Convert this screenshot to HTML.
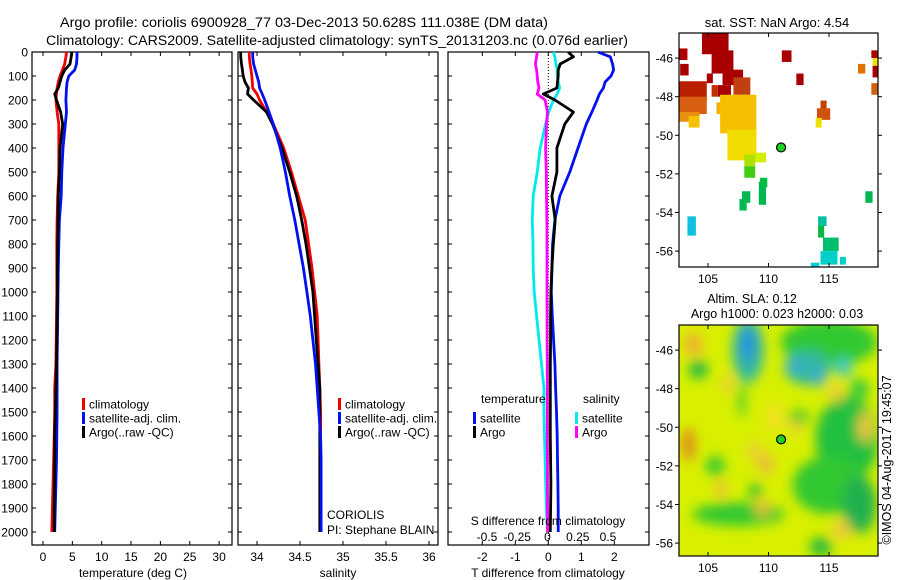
<!DOCTYPE html>
<html><head><meta charset="utf-8"><style>
html,body{margin:0;padding:0;background:#fff;}
svg{display:block;font-family:"Liberation Sans",sans-serif;}
</style></head><body>
<svg id="fig" xmlns="http://www.w3.org/2000/svg" width="900" height="580" viewBox="0 0 900 580">
<rect x="0" y="0" width="900" height="580" fill="#fff"/>
<text x="304" y="27" font-size="13.5" text-anchor="middle" textLength="488" lengthAdjust="spacingAndGlyphs">Argo profile: coriolis 6900928_77 03-Dec-2013 50.628S 111.038E (DM data)</text>
<text x="337" y="45" font-size="13.5" text-anchor="middle" textLength="582" lengthAdjust="spacingAndGlyphs">Climatology: CARS2009. Satellite-adjusted climatology: synTS_20131203.nc (0.076d earlier)</text>
<text x="777" y="27" font-size="13" text-anchor="middle">sat. SST: NaN Argo: 4.54</text>
<text x="752" y="303" font-size="12.5" text-anchor="middle">Altim. SLA: 0.12</text>
<text x="777" y="318" font-size="12.5" text-anchor="middle">Argo h1000: 0.023 h2000: 0.03</text>
<text transform="translate(891,460) rotate(-90)" font-size="12.5" text-anchor="middle">©IMOS 04-Aug-2017 19:45:07</text>
<g id="panels"></g>
<defs>
<clipPath id="clipTop"><rect x="679" y="33" width="199" height="234"/></clipPath>
<clipPath id="clipBot"><rect x="679" y="325" width="199" height="231"/></clipPath>
<filter id="blur" x="-20%" y="-20%" width="140%" height="140%"><feGaussianBlur stdDeviation="6"/></filter>
</defs>
</svg>
<script>
// ---------- profile data ----------
const depths = [0,20,50,75,100,125,150,175,200,250,300,400,500,600,700,800,900,1000,1100,1200,1300,1400,1500,1600,1700,1800,1900,2000];
const tempClim = [4.0,3.9,3.7,3.3,2.9,2.6,2.4,2.3,2.2,2.4,2.7,2.7,2.7,2.5,2.4,2.35,2.35,2.35,2.3,2.25,2.2,2.0,2.0,1.9,1.8,1.7,1.6,1.5];
const tempSat  = [5.8,5.8,5.7,5.4,4.4,4.1,4.0,3.95,3.9,4.0,3.8,3.4,3.2,3.1,2.8,2.7,2.6,2.55,2.5,2.45,2.4,2.4,2.4,2.35,2.3,2.2,2.1,2.0];
const tempArgo = [4.9,4.8,4.6,3.7,3.2,2.9,2.6,2.0,2.3,3.0,3.35,2.9,2.8,2.6,2.55,2.5,2.45,2.45,2.4,2.35,2.3,2.2,2.1,2.0,2.0,1.95,1.9,1.9];
const salClim = [33.91,33.91,33.92,33.93,33.94,33.945,33.95,34.0,34.03,34.11,34.19,34.31,34.40,34.48,34.56,34.60,34.64,34.67,34.70,34.71,34.72,34.73,34.74,34.74,34.74,34.74,34.74,34.74];
const salSat  = [33.95,33.95,33.96,33.98,34.0,34.02,34.03,34.06,34.09,34.14,34.19,34.27,34.33,34.38,34.44,34.49,34.54,34.58,34.62,34.65,34.68,34.70,34.72,34.74,34.745,34.745,34.745,34.745];
const salArgo = [33.81,33.81,33.82,33.83,33.84,33.86,33.90,33.89,33.96,34.11,34.18,34.29,34.38,34.46,34.52,34.57,34.61,34.65,34.67,34.69,34.71,34.73,34.73,34.73,34.73,34.73,34.73,34.73];
const tDiffSat  = [1.5,1.88,1.95,1.98,1.9,1.72,1.67,1.55,1.48,1.32,1.15,0.9,0.65,0.35,0.2,0.13,0.11,0.09,0.12,0.16,0.2,0.22,0.25,0.27,0.28,0.29,0.3,0.3];
const tDiffArgo = [0.6,0.76,0.36,0.3,0.3,0.28,0.26,-0.15,0.2,0.76,0.5,0.26,0.26,0.11,0.21,0.15,0.11,0.08,0.07,0.07,0.06,0.06,0.06,0.06,0.07,0.08,0.07,0.06];
const sDiffSat  = [0.05,0.06,0.07,0.08,0.08,0.09,0.10,0.08,0.05,0.01,-0.016,-0.06,-0.085,-0.118,-0.126,-0.12,-0.118,-0.11,-0.09,-0.07,-0.05,-0.03,-0.03,-0.025,-0.02,-0.015,-0.01,0.0];
const sDiffArgo = [-0.085,-0.09,-0.1,-0.09,-0.085,-0.08,-0.07,-0.085,-0.02,0.0,-0.008,-0.016,-0.01,-0.008,-0.005,-0.004,-0.004,-0.004,-0.003,-0.003,-0.002,-0.002,-0.002,-0.002,-0.001,-0.001,0.0,0.0];
const depthTicks = [0,100,200,300,400,500,600,700,800,900,1000,1100,1200,1300,1400,1500,1600,1700,1800,1900,2000];
const tempTicks = [0,5,10,15,20,25,30];
const salTicks = [34,34.5,35,35.5,36];
const salTickLabels = ["34","34.5","35","35.5","36"];
const tDiffTicks = [-2,-1,0,1,2];
const sDiffTicks = [-0.5,-0.25,0,0.25,0.5];
const sDiffTickLabels = ["-0.5","-0.25","0","0.25","0.5"];
// ---------- map data ----------
const mapLonTicks = [105,110,115];
const mapLatTicks = [-46,-48,-50,-52,-54,-56];
const argoLon = 111.04, argoLat = -50.63;
const sstCells = [
 [104.5,-44.7,106.7,-45.8,"#a80000"],[105.3,-45.6,107.1,-46.8,"#a80000"],[106.2,-46.6,107.9,-47.4,"#a80000"],
 [107.1,-47.0,108.5,-47.9,"#c04010"],[102.6,-45.5,103.3,-46.1,"#b00000"],[102.7,-46.3,103.4,-46.9,"#a80000"],
 [102.6,-47.2,104.9,-48.2,"#b82000"],[102.6,-48.0,104.9,-48.9,"#d86010"],[102.6,-48.8,104.3,-49.3,"#e89010"],
 [103.4,-49.0,104.3,-49.6,"#f5c000"],[104.9,-46.8,105.4,-47.3,"#a80000"],[105.8,-47.4,106.9,-48.0,"#a80000"],
 [105.3,-47.4,105.8,-48.0,"#c03000"],[105.7,-48.3,106.2,-48.9,"#f5b000"],
 [106.0,-47.9,109.0,-49.9,"#f5c000"],[106.6,-49.7,109.0,-51.3,"#f0dc00"],[108.9,-50.9,109.8,-51.4,"#d0f000"],
 [108.0,-51.0,108.9,-51.6,"#b0e000"],[108.0,-51.6,108.9,-52.2,"#40cc10"],
 [109.3,-52.2,109.9,-52.7,"#00c040"],[109.2,-52.4,109.8,-53.6,"#00b850"],[107.8,-52.9,108.5,-53.5,"#00b850"],
 [107.6,-53.3,108.2,-53.9,"#00b850"],[103.3,-54.2,104.0,-55.2,"#10c0e0"],
 [114.1,-54.2,114.8,-54.7,"#00c0a0"],[114.1,-54.7,114.6,-55.3,"#00b840"],[114.5,-55.3,115.8,-56.0,"#00c070"],
 [114.3,-56.0,115.7,-56.7,"#00d0c8"],[115.9,-56.3,116.4,-56.7,"#00d0c8"],[113.5,-56.6,114.2,-56.8,"#00d0c8"],
 [111.1,-45.6,111.9,-46.2,"#a80000"],[112.3,-46.8,112.9,-47.4,"#a80000"],[114.3,-48.2,114.8,-48.7,"#c04000"],
 [114.0,-48.6,115.1,-49.2,"#d05010"],[113.9,-49.1,114.4,-49.6,"#f0e000"],[117.4,-46.3,118.0,-46.8,"#e07000"],
 [118.5,-45.6,119.1,-46.0,"#a80000"],[118.6,-46.0,119.1,-46.4,"#f0e000"],[118.6,-46.4,119.1,-47.0,"#a80000"],
 [118.5,-47.3,119.1,-47.9,"#d06010"],[118.0,-52.9,118.6,-53.5,"#00b850"]
];
const slaBlobs = [
 [115,-45.6,4,1.2,"#30c830"],[116.5,-50.6,2.6,2.2,"#20c040"],[115,-53,3,1.5,"#30c830"],[117.5,-54,1.4,1.5,"#20b050"],
 [107.5,-54.5,3.8,0.6,"#30c830"],[104.2,-47,0.8,0.5,"#20b848"],[105.6,-52,0.8,0.5,"#30c830"],[108.9,-53.3,0.5,0.4,"#20b840"],
 [114.3,-56.2,0.9,0.5,"#20b840"],[112.5,-49.5,0.8,0.4,"#40c830"],[107.8,-48.6,0.3,0.9,"#40c830"],[117.5,-48,0.8,0.5,"#30c840"],
 [108.3,-46.0,1.3,1.7,"#30b8a0"],[108.3,-45.7,0.6,0.9,"#2a90e0"],
 [113.2,-46.9,1.9,0.9,"#30b8a0"],[112.2,-46.8,0.5,0.4,"#40a8e0"],[114.2,-47.4,0.5,0.5,"#40a8e0"],[116.2,-46.9,0.7,0.5,"#40c8c8"],
 [103.8,-45.7,0.8,0.6,"#f0b030"],[103.4,-50.9,0.5,0.9,"#e08020"],[109.8,-51.9,0.6,0.6,"#f0b840"],[108.8,-51.2,0.5,0.5,"#f0c840"],
 [109.5,-54.2,0.6,0.4,"#f0b840"],[106.1,-53.2,0.4,0.5,"#f0b840"],[116,-55.3,0.8,0.5,"#f0c840"],[118,-50,0.6,0.8,"#f0c840"],
 [106.6,-47.8,0.4,0.5,"#f0c840"],[115.6,-48.2,0.5,0.5,"#f0c840"],[112.2,-50,0.4,0.4,"#f0c840"],[110.5,-49.5,0.8,0.8,"#f0e020"]
];

const NS = "http://www.w3.org/2000/svg";
const rootG = document.getElementById('panels');
function mk(tag, attrs, parent){ const e=document.createElementNS(NS,tag); for(const k in attrs) e.setAttribute(k,attrs[k]); (parent||rootG).appendChild(e); return e; }
function txt(s, attrs, parent){ const e=mk('text',attrs,parent); e.textContent=s; return e; }

const Y0 = 52, PXM = 0.24, YBOT = 545;
const yD = d => Y0 + d*PXM;
const FS = 12;

const panelDefs = [
 {name:'temperature', left:32, right:232, x:v=>43+v*5.87, ticks:tempTicks, labels:tempTicks.map(String), title:'temperature (deg C)'},
 {name:'salinity', left:238, right:438, x:v=>257+(v-34)*86, ticks:salTicks, labels:salTickLabels, title:'salinity'},
 {name:'difference', left:448, right:649, x:v=>548.3+v*33, ticks:tDiffTicks, labels:tDiffTicks.map(String), title:'T difference from climatology'}
];
const xS = v => 547.5 + v*121;

function profLine(xs, name, color, xf, parent){
  let d = '';
  for(let i=0;i<depths.length;i++){
    d += (i===0?'M':'L')+xf(xs[i]).toFixed(1)+','+yD(depths[i]).toFixed(1)+' ';
  }
  const p = mk('path',{d:d,fill:'none',stroke:color,'stroke-width':2.8,'stroke-linejoin':'round'},parent);
  
  
}

panelDefs.forEach((P,pi)=>{
  const g = mk('g',{});
  
  
  const fr = mk('rect',{x:P.left,y:Y0,width:P.right-P.left,height:YBOT-Y0,fill:'none',stroke:'#000','stroke-width':1.2},g);
  
  
  depthTicks.forEach(d=>{
    mk('line',{x1:P.left,x2:P.left+4,y1:yD(d),y2:yD(d),stroke:'#000'},g);
    mk('line',{x1:P.right-4,x2:P.right,y1:yD(d),y2:yD(d),stroke:'#000'},g);
    if(pi===0){
      const t = txt(String(d),{x:28,y:yD(d)+4.5,'font-size':FS,'text-anchor':'end'},g);
      
      
    }
  });
  P.ticks.forEach((v,i)=>{
    const x = P.x(v);
    mk('line',{x1:x,x2:x,y1:Y0,y2:Y0+4,stroke:'#000'},g);
    mk('line',{x1:x,x2:x,y1:YBOT-4,y2:YBOT,stroke:'#000'},g);
    const t = txt(P.labels[i],{x:x,y:561,'font-size':FS,'text-anchor':'middle'},g);
    
    
  });
  const at = txt(P.title,{x:pi===0?133:(pi===1?338:548),y:577,'font-size':FS,'text-anchor':'middle'},g);
  
  
  if(pi===0){
    profLine(tempClim,'temp-climatology-line','#f00000',P.x,g);
    profLine(tempSat,'temp-satellite-line','#0010f0',P.x,g);
    profLine(tempArgo,'temp-argo-line','#000',P.x,g);
  } else if(pi===1){
    profLine(salClim,'sal-climatology-line','#f00000',P.x,g);
    profLine(salArgo,'sal-argo-line','#000',P.x,g);
    profLine(salSat,'sal-satellite-line','#0010f0',P.x,g);
  } else {
    const z = mk('line',{x1:P.x(0),x2:P.x(0),y1:Y0,y2:YBOT,stroke:'#000','stroke-dasharray':'1,2'},g);
    
    
    profLine(tDiffSat,'tdiff-satellite-line','#0010f0',P.x,g);
    profLine(sDiffSat,'sdiff-satellite-line','#00e8f0',xS,g);
    profLine(sDiffArgo,'sdiff-argo-line','#ff00ff',xS,g);
    profLine(tDiffArgo,'tdiff-argo-line','#000',P.x,g);
    sDiffTicks.forEach((v,i)=>{
      const t = txt(sDiffTickLabels[i],{x:xS(v),y:541,'font-size':FS,'text-anchor':'middle'},g);
      
      
    });
    const st = txt('S difference from climatology',{x:548,y:525,'font-size':FS,'text-anchor':'middle'},g);
    
    
  }
});

function legendRow(x,y,color,label,name){
  const g = mk('g',{});
  
  
  mk('rect',{x:x,y:y-6,width:3,height:12,fill:color},g);
  txt(label,{x:x+7,y:y+4.5,'font-size':FS},g);
}
[[82,'temp'],[338,'sal']].forEach(([lx,pre])=>{
  legendRow(lx,404,'#f00000','climatology',pre+'-legend-climatology');
  legendRow(lx,418,'#0010f0','satellite-adj. clim.',pre+'-legend-satellite');
  legendRow(lx,432,'#000','Argo(..raw -QC)',pre+'-legend-argo');
});
const lt1 = txt('temperature',{x:481,y:403,'font-size':FS});


const lt2 = txt('salinity',{x:583,y:403,'font-size':FS});


legendRow(473,418,'#0010f0','satellite','legend-tdiff-satellite');
legendRow(473,432,'#000','Argo','legend-tdiff-argo');
legendRow(575,418,'#00e8f0','satellite','legend-sdiff-satellite');
legendRow(575,432,'#ff00ff','Argo','legend-sdiff-argo');
const c1 = txt('CORIOLIS',{x:327,y:519,'font-size':FS});


const c2 = txt('PI: Stephane BLAIN',{x:327,y:534,'font-size':FS});



// ---------- maps ----------
const MX0=679, MX1=878;
const lonX = lon => 708 + (lon-105)*12.1;
function makeMap(mTop, mBottom, name){
  const g = mk('g',{});
  
  
  const latY = lat => mTop + (-44.7 - lat)*19.3;
  return {g:g, latY:latY, top:mTop, bottom:mBottom};
}
function mapFrame(M){
  const g = M.g;
  mk('rect',{x:MX0,y:M.top,width:MX1-MX0,height:M.bottom-M.top,fill:'none',stroke:'#000','stroke-width':1.2},g);
  mapLonTicks.forEach(l=>{
    const x=lonX(l);
    mk('line',{x1:x,x2:x,y1:M.top,y2:M.top+4,stroke:'#000'},g);
    mk('line',{x1:x,x2:x,y1:M.bottom-4,y2:M.bottom,stroke:'#000'},g);
    const t = txt(String(l),{x:x,y:M.bottom+16,'font-size':FS,'text-anchor':'middle'},g);
    
    
  });
  mapLatTicks.forEach(l=>{
    const y=M.latY(l);
    mk('line',{x1:MX0-4,x2:MX0,y1:y,y2:y,stroke:'#000'},g);
    mk('line',{x1:MX1,x2:MX1+4,y1:y,y2:y,stroke:'#000'},g);
    const t = txt(String(l),{x:MX0-6,y:y+4.5,'font-size':FS,'text-anchor':'end'},g);
    
    
  });
  const dot = mk('circle',{cx:lonX(argoLon),cy:M.latY(argoLat),r:4.5,fill:'#20d020',stroke:'#000','stroke-width':1.2},g);
  
  
}
const sstMap = makeMap(33,267,'sst-map');
const cellsG = mk('g',{'clip-path':'url(#clipTop)'},sstMap.g);
sstCells.forEach(c=>{
  const r = mk('rect',{x:lonX(c[0]),y:sstMap.latY(c[1]),width:lonX(c[2])-lonX(c[0]),height:sstMap.latY(c[3])-sstMap.latY(c[1]),fill:c[4]},cellsG);
  
  
});
mapFrame(sstMap);

const slaMap = makeMap(325,556,'sla-map');
const clipG = mk('g',{'clip-path':'url(#clipBot)'},slaMap.g);
mk('rect',{x:MX0,y:325,width:MX1-MX0,height:231,fill:'#d8f000'},clipG);
const blobG = mk('g',{filter:'url(#blur)'},clipG);
slaBlobs.forEach(b=>{
  const e = mk('ellipse',{cx:lonX(b[0]),cy:slaMap.latY(b[1]),rx:b[2]*12.1,ry:b[3]*19.3,fill:b[4]},blobG);
  
  
});
mapFrame(slaMap);
</script>
</body></html>
